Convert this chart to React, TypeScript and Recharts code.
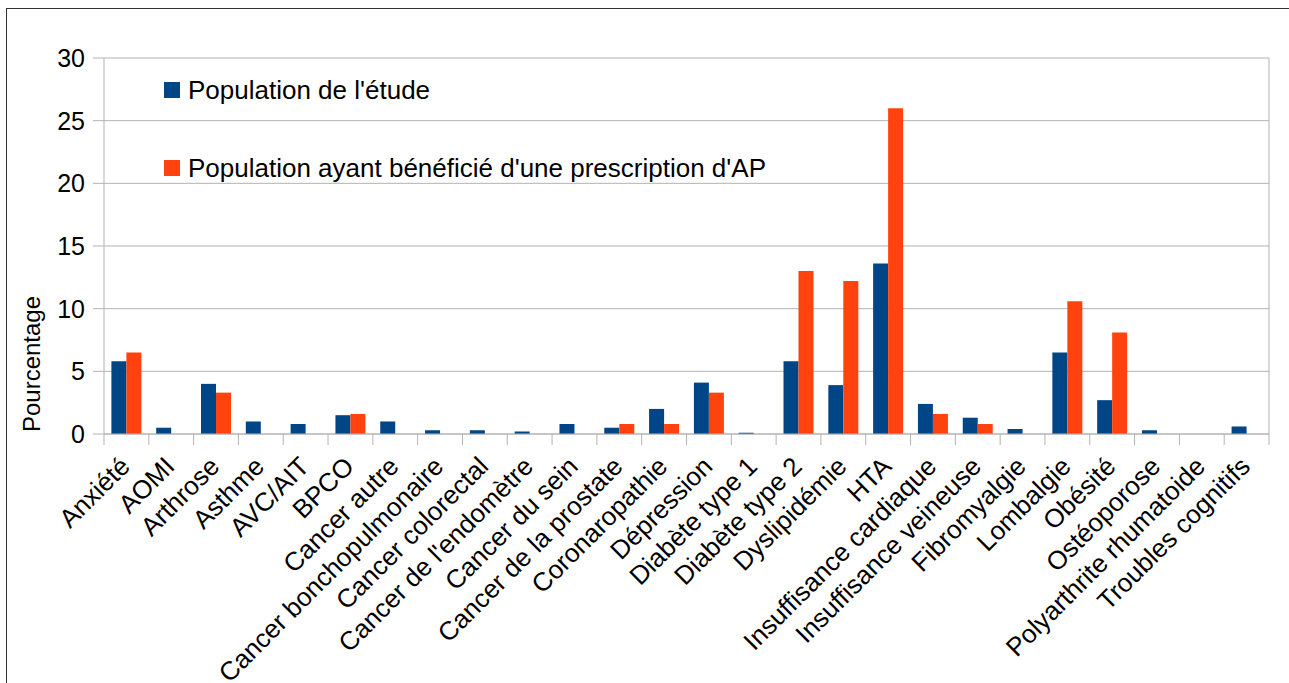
import { BarChart, Bar, XAxis, YAxis, CartesianGrid, Legend, Label } from 'recharts';

const categories = [
  'Anxiété', 'AOMI', 'Arthrose', 'Asthme', 'AVC/AIT', 'BPCO', 'Cancer autre',
  'Cancer bonchopulmonaire', 'Cancer colorectal', "Cancer de l'endomètre", 'Cancer du sein',
  'Cancer de la prostate', 'Coronaropathie', 'Dépression', 'Diabète type 1', 'Diabète type 2',
  'Dyslipidémie', 'HTA', 'Insuffisance cardiaque', 'Insuffisance veineuse', 'Fibromyalgie',
  'Lombalgie', 'Obésité', 'Ostéoporose', 'Polyarthrite rhumatoide', 'Troubles cognitifs',
];

const etude = [5.8, 0.5, 4.0, 1.0, 0.8, 1.5, 1.0, 0.3, 0.3, 0.2, 0.8, 0.5, 2.0, 4.1, 0.1, 5.8, 3.9, 13.6, 2.4, 1.3, 0.4, 6.5, 2.7, 0.3, 0, 0.6];
const prescription = [6.5, 0, 3.3, 0, 0, 1.6, 0, 0, 0, 0, 0, 0.8, 0.8, 3.3, 0, 13.0, 12.2, 26.0, 1.6, 0.8, 0, 10.6, 8.1, 0, 0, 0];

const yTicks = [0, 5, 10, 15, 20, 25, 30];

const seriesNames = ["Population de l'étude", "Population ayant bénéficié d'une prescription d'AP"];

const data = categories.map((name, i) => ({ name, etude: etude[i], prescription: prescription[i] }));

const FONT = '"Liberation Sans", Arial, sans-serif';
const GRID = '#b3b3b3';
const BLUE = '#004586';
const ORANGE = '#ff420e';

const PLOT_LEFT = 104;
const PLOT_RIGHT = 1269;
const STEP = (PLOT_RIGHT - PLOT_LEFT) / categories.length;

function CategoryTick(props: any) {
  const { x, y, payload, index } = props;
  const last = index === categories.length - 1;
  const ax = x + 5;
  const ay = y + 34;
  return (
    <g>
      <line x1={x - STEP / 2} x2={x - STEP / 2} y1={y} y2={y + 11} stroke={GRID} />
      {last && <line x1={x + STEP / 2} x2={x + STEP / 2} y1={y} y2={y + 11} stroke={GRID} />}
      <text
        x={ax}
        y={ay}
        transform={`rotate(-45 ${ax} ${ay})`}
        textAnchor="end"
        fontSize={26}
        fontFamily={FONT}
        fill="#000"
      >
        {payload.value}
      </text>
    </g>
  );
}

function LegendBox({ payload }: any) {
  const items = seriesNames.map((n) => (payload || []).find((p: any) => p.value === n)).filter(Boolean);
  return (
    <div style={{ display: 'flex', flexDirection: 'column', gap: 62, fontFamily: FONT }}>
      {items.map((p: any) => (
        <div key={p.value} style={{ display: 'flex', alignItems: 'center', height: 16, whiteSpace: 'nowrap' }}>
          <span style={{ width: 16, height: 16, background: p.color, display: 'inline-block', marginRight: 8 }} />
          <span style={{ fontSize: 26, color: '#000' }}>{p.value}</span>
        </div>
      ))}
    </div>
  );
}

export default function App() {
  return (
    <div style={{ position: 'absolute', left: 0, top: 0, width: 1289, height: 683, background: '#fff', overflow: 'hidden' }}>
      <div style={{ position: 'absolute', left: 6, top: 8, width: 1300, height: 700, border: '1px solid #333' }} />
      <div style={{ position: 'absolute', left: 0, top: 0 }}>
        <BarChart
          width={1289}
          height={683}
          data={data}
          margin={{ top: 58, right: 1289 - PLOT_RIGHT, left: 0, bottom: 9 }}
          barCategoryGap="16.5%"
          barGap={0}
        >
          <CartesianGrid
            stroke={GRID}
            horizontalValues={yTicks}
            verticalCoordinatesGenerator={({ offset }: any) => [offset.left + offset.width]}
          />
          <XAxis
            dataKey="name"
            interval={0}
            height={240}
            tickSize={0}
            tickMargin={0}
            tickLine={false}
            axisLine={{ stroke: GRID }}
            tick={<CategoryTick />}
          />
          <YAxis
            width={PLOT_LEFT}
            domain={[0, 30]}
            ticks={yTicks}
            tickSize={11}
            tickMargin={8}
            axisLine={{ stroke: GRID }}
            tickLine={{ stroke: GRID }}
            tick={{ fontSize: 25, fontFamily: FONT, fill: '#000' }}
          >
            <Label
              content={() => (
                <text
                  x={40}
                  y={364}
                  transform="rotate(-90 40 364)"
                  textAnchor="middle"
                  fontSize={24}
                  fontFamily={FONT}
                  fill="#000"
                >
                  Pourcentage
                </text>
              )}
            />
          </YAxis>
          <Legend
            layout="vertical"
            align="center"
            verticalAlign="middle"
            wrapperStyle={{ left: 164, top: 82, width: 'auto' }}
            content={<LegendBox />}
          />
          <Bar dataKey="etude" name={seriesNames[0]} fill={BLUE} isAnimationActive={false} />
          <Bar dataKey="prescription" name={seriesNames[1]} fill={ORANGE} isAnimationActive={false} />
        </BarChart>
      </div>
    </div>
  );
}
